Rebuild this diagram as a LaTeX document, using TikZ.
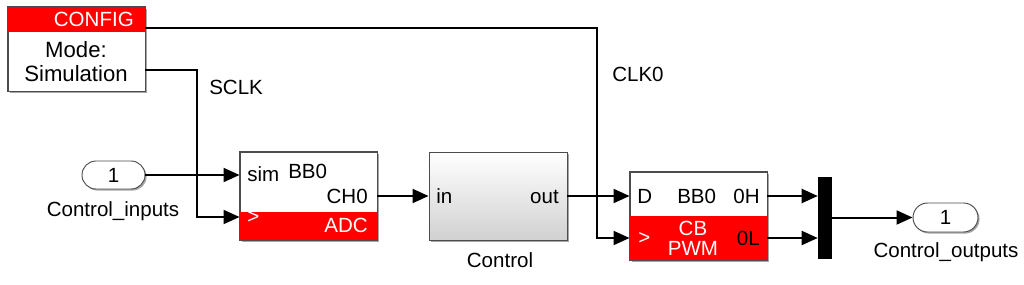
\documentclass[tikz,border=0pt]{standalone}
\usepackage{fontspec}
\setmainfont{Liberation Sans}
\usetikzlibrary{arrows.meta,calc,shadows}
\definecolor{simred}{RGB}{255,0,0}
\begin{document}
\begin{tikzpicture}[x=0.75pt,y=-0.75pt,
  font=\fontsize{15.4pt}{18pt}\selectfont,
  blk/.style={draw=black!70, line width=0.7pt, fill=white, inner sep=0pt,
    drop shadow={shadow xshift=1.2pt, shadow yshift=-1.2pt, fill=black!35, opacity=1}},
  border/.style={draw=black!70, line width=0.7pt},
  txt/.style={inner sep=0pt, text depth=0pt},
  bigtxt/.style={txt, font=\fontsize{16.6pt}{19pt}\selectfont},
  wtxt/.style={txt, text=white},
  wire/.style={line width=1.5pt, -{Triangle[length=12pt,width=10.5pt]}},
  plain/.style={line width=1.5pt}]
\useasboundingbox (0,0) rectangle (1024,285);

% blocks
\node[blk, minimum width=102.75pt, minimum height=63pt] (config) at (76.5,49) {};
\fill[simred] ($(config.north west)+(0.5,0.5)$) rectangle ($(config.north east)+(-0.5,25)$);
\draw[border] (config.north west) rectangle (config.south east);

\node[blk, minimum width=102.75pt, minimum height=66pt] (adc) at (308.5,196) {};
\fill[simred] ($(adc.south west)+(0.5,-28)$) rectangle ($(adc.south east)+(-0.5,-0.5)$);
\draw[border] (adc.north west) rectangle (adc.south east);

\node[blk, minimum width=103.5pt, minimum height=66pt, top color=white, bottom color=black!18] (ctrl) at (498,196) {};

\node[blk, minimum width=102.75pt, minimum height=66pt] (pwm) at (698.5,216) {};
\fill[simred] ($(pwm.south west)+(0.5,-44)$) rectangle ($(pwm.south east)+(-0.5,-0.5)$);
\draw[border] (pwm.north west) rectangle (pwm.south east);

\node[draw=black, fill=black, minimum width=9.75pt, minimum height=60.75pt, inner sep=0pt] (mux) at (824.5,217.5) {};

\node[blk, rounded corners=10.5pt, minimum width=47.25pt, minimum height=21pt] (inport) at (113.5,175) {};
\node[blk, rounded corners=10.9pt, minimum width=48.75pt, minimum height=21.75pt] (outport) at (945.5,217.5) {};

% texts
\node[wtxt, anchor=base east] (tcfg) at (134,27) {CONFIG};
\node[bigtxt, anchor=base] (tmode) at (76,58) {Mode:};
\node[bigtxt, anchor=base] (tsim) at (76,82) {Simulation};
\node[txt, anchor=base west] (tsclk) at (209,94) {SCLK};
\node[txt, anchor=base west] (tclk) at (612,81) {CLK0};
\node[txt, anchor=base] (tin1) at (113.5,182) {1};
\node[txt, anchor=base] (tinl) at (113,216) {Control\_inputs};

\node[txt, anchor=base west] (tsimp) at (247,181) {sim};
\node[txt, anchor=base west] (tbb0a) at (288,178) {BB0};
\node[txt, anchor=base east] (tch0) at (368,203) {CH0};
\node[wtxt, anchor=base west] (tgta) at (247,223) {>};
\node[wtxt, anchor=base east] (tadc) at (368,232) {ADC};

\node[txt, anchor=base west] (tinp) at (436,203) {in};
\node[txt, anchor=base east] (toutp) at (559,203) {out};
\node[txt, anchor=base] (tctrl) at (500,267) {Control};

\node[txt, anchor=base west] (td) at (637,203) {D};
\node[txt, anchor=base west] (tbb0b) at (677,203) {BB0};
\node[txt, anchor=base east] (t0h) at (760,203) {0H};
\node[wtxt, anchor=base west] (tgtb) at (638,244) {>};
\node[wtxt, anchor=base] (tcb) at (693,235) {CB};
\node[wtxt, anchor=base] (tpwm) at (693,255) {PWM};
\node[txt, anchor=base east] (t0l) at (760,245) {0L};

\node[txt, anchor=base] (tout1) at (945.5,224) {1};
\node[txt, anchor=base] (toutl) at (946,257) {Control\_outputs};

% port and junction coordinates
\coordinate (j1) at (197,100);
\coordinate (j2) at (597,100);
\coordinate (cfgclk) at ($(config.east)+(0,-21)$);
\coordinate (cfgsclk) at ($(config.east)+(0,21)$);
\coordinate (adcclk) at ($(adc.west)+(0,21)$);
\coordinate (pwmclk) at ($(pwm.west)+(0,22)$);
\coordinate (p0h) at ($(pwm.east)+(0,-20)$);
\coordinate (p0l) at ($(pwm.east)+(0,22)$);

% wires
\draw[wire] (cfgclk) -| (j2) |- (pwmclk);
\draw[wire] (cfgsclk) -| (j1) |- (adcclk);
\draw[wire] (inport.east) -- (inport.east -| adc.west);
\draw[wire] (adc.east) -- (ctrl.west);
\draw[wire] (ctrl.east) -- (ctrl.east -| pwm.west);
\draw[wire] (p0h) -- (p0h -| mux.west);
\draw[wire] (p0l) -- (p0l -| mux.west);
\draw[wire] (mux.east) -- (outport.west);
\end{tikzpicture}
\end{document}
